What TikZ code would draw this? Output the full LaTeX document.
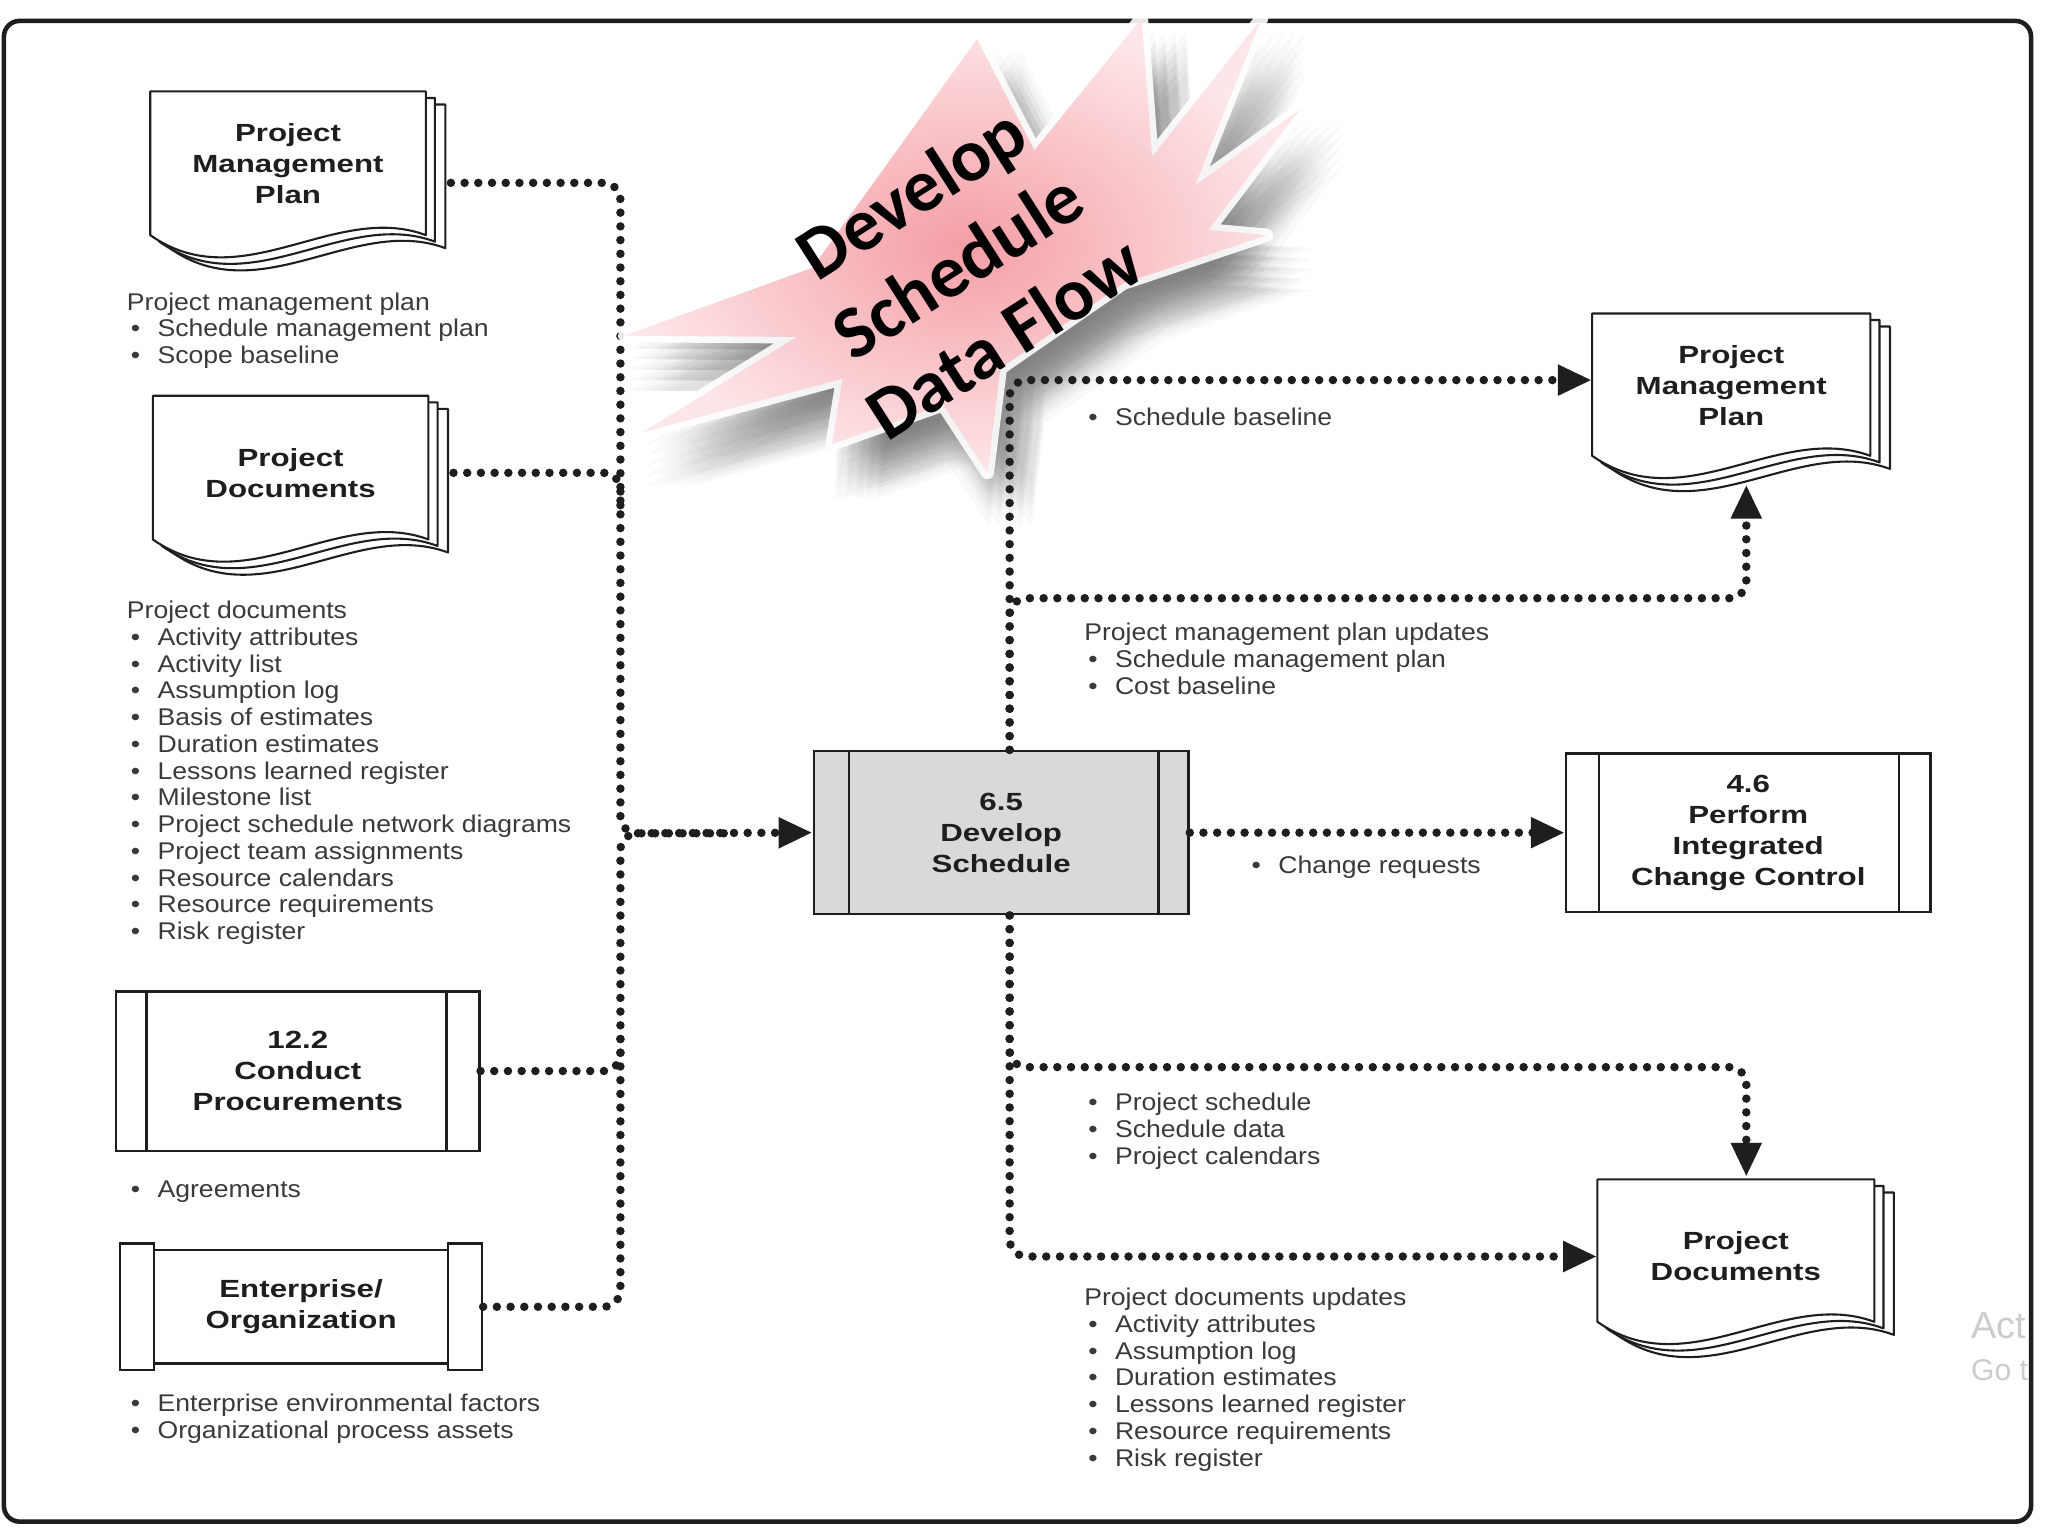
\documentclass[tikz,border=0pt]{standalone}
\usepackage{fontspec}
\setmainfont{Liberation Sans}
\newfontfamily\lstfont{Liberation Sans}[FakeStretch=1.1]
\newfontfamily\ttlfont{Liberation Sans}[FakeStretch=1.26]
\newfontfamily\starfont{Carlito}
\usetikzlibrary{arrows.meta}
\definecolor{txt}{HTML}{3A3A3A}
\definecolor{ink}{HTML}{1E1E1E}
\definecolor{procgray}{HTML}{D9D9D9}
\definecolor{pinkin}{HTML}{F49EA5}
\definecolor{pinkout}{HTML}{FDE6E8}
\newcommand\itm{\makebox[23.5pt][l]{\hspace{3pt}\textbullet}}
\newcommand\lns[1]{\begin{tabular}[t]{@{}l@{}}#1\end{tabular}}
\tikzset{
 lst/.style={anchor=base west, inner sep=0pt, text=txt, font=\lstfont\fontsize{18.5}{20.5}\selectfont},
 ttl/.style={align=center, text=ink, font=\ttlfont\bfseries\fontsize{19}{23.8}\selectfont},
 proc/.style={draw=ink, line width=1.8pt, fill=white, ttl, inner sep=0pt},
 procline/.style={draw=ink, line width=1.8pt},
 docnode/.style={ttl, inner sep=0pt},
 docline/.style={draw=ink, line width=1.6pt, fill=white, line join=round},
 flow/.style={draw=ink, line width=6.5pt, dash pattern=on 0pt off 10.5pt, line cap=round, rounded corners=13pt},
 tip/.style={-{Triangle[length=26pt,width=22pt]}}
}
\newcommand\docshape[4]{%
 \foreach \dx/\dy in {15/10,7/5}{%
  \path[docline] (#1+\dx,#2+\dy) -- (#1+#3+\dx,#2+\dy) -- (#1+#3+\dx,#2+#4+\dy) .. controls (#1+0.67*#3+\dx,#2+#4+\dy-26) and (#1+0.33*#3+\dx,#2+#4+\dy+49) .. (#1+\dx,#2+#4+\dy) -- cycle;}
 \path[docline] (#1,#2) -- (#1+#3,#2) -- (#1+#3,#2+#4) .. controls (#1+0.67*#3,#2+#4-26) and (#1+0.33*#3,#2+#4+49) .. (#1,#2+#4) -- cycle;
}
\newcommand\starpath[1]{\path[#1] (478,257) -- (622,205) -- (748,30) -- (792,115) -- (874,14) -- (882,120) -- (966,14) -- (915,142) -- (995,84) -- (925,176) -- (970,180) -- (860,217) -- (766,282) -- (756,362) -- (722,310) -- (637,340) -- (645,290) -- (492,331) -- (610,258) -- cycle;}
\begin{document}
\begin{tikzpicture}[x=1pt,y=-1pt]
\useasboundingbox (0,0) rectangle (1568,1176);
\fill[white] (0,0) rectangle (1568,1176);
\draw[ink,line width=3.5pt,rounded corners=12pt] (3,16) rectangle (1555,1165);

% documents
\docshape{115}{70}{211}{110}
\node[docnode,minimum width=211pt,minimum height=110pt] (lpmp) at (220.5,125) {Project\\Management\\Plan};
\docshape{117}{303}{211}{110}
\node[docnode,minimum width=211pt,minimum height=110pt] (lpd) at (222.5,362) {Project\\Documents};
\docshape{1219}{240}{213}{109}
\node[docnode,minimum width=213pt,minimum height=109pt] (rpmp) at (1325.5,295) {Project\\Management\\Plan};
\docshape{1223}{903}{212}{109}
\node[docnode,minimum width=212pt,minimum height=109pt] (rpd) at (1329,962) {Project\\Documents};

% processes
\node[proc,minimum width=278pt,minimum height=122pt] (c122) at (228,820) {12.2\\Conduct\\Procurements};
\draw[procline] ([xshift=24pt]c122.north west) -- ([xshift=24pt]c122.south west);
\draw[procline] ([xshift=-26pt]c122.north east) -- ([xshift=-26pt]c122.south east);

\node[proc,minimum width=277pt,minimum height=87pt] (ent) at (230.5,1000.5) {Enterprise/\\Organization};
\draw[procline,fill=white] (92,952) rectangle (118,1049);
\draw[procline,fill=white] (343,952) rectangle (369,1049);

\node[proc,fill=procgray,minimum width=287pt,minimum height=125pt] (c65) at (766.5,637.5) {6.5\\Develop\\Schedule};
\draw[procline] ([xshift=28pt]c65.north west) -- ([xshift=28pt]c65.south west);
\draw[procline] ([xshift=-24pt]c65.north east) -- ([xshift=-24pt]c65.south east);

\node[proc,minimum width=279pt,minimum height=121pt] (c46) at (1338.5,637.5) {4.6\\Perform\\Integrated\\Change Control};
\draw[procline] ([xshift=26pt]c46.north west) -- ([xshift=26pt]c46.south west);
\draw[procline] ([xshift=-25pt]c46.north east) -- ([xshift=-25pt]c46.south east);

% connectors left
\draw[flow,tip] ([xshift=19pt,yshift=-15pt]lpmp.east) -- (475,140) -- (475,638) -- (c65.west);
\draw[flow] ([xshift=19pt]lpd.east) -- (475,362) -- (475,392);
\draw[flow] (c122.east) -- (475,820) -- (475,792);
\draw[flow] (ent.east) -- (475,1000.5) -- (475,638) -- (560,638);

% starburst: soft shadow, white glow, pink body
\foreach \sx in {-16,-8,0,8,16}{\foreach \sy in {-16,-8,0,8,16}{%
  \starpath{fill=black, opacity=0.022, shift={(18+\sx,26+\sy)}}}}
\starpath{draw=white, line width=10pt, line join=round, opacity=0.9}
\starpath{inner color=pinkin, outer color=pinkout}
\node[rotate=32.6, align=center, inner sep=0pt, text=black, font=\starfont\bfseries\fontsize{57}{66}\selectfont] (title) at (733,203) {Develop\\Schedule\\Data Flow};

% connectors right
\coordinate (rpmpIn) at (1337,371);
\coordinate (rpdIn) at (1337,901);
\draw[flow,tip] ([xshift=6.5pt]c65.north) -- (773,291) -- ([yshift=4pt]rpmp.west);
\draw[flow,tip] ([xshift=6.5pt]c65.north) -- (773,458) -- (1337,458) -- (rpmpIn);
\draw[flow,tip] (c65.east) -- (c46.west);
\draw[flow,tip] ([xshift=6.5pt]c65.south) -- (773,962) -- (rpd.west);
\draw[flow,tip] ([xshift=6.5pt]c65.south) -- (773,817) -- (1337,817) -- (rpdIn);

% lists left
\node[lst] (l1) at (97,237.5) {\lns{Project management plan\\ \itm Schedule management plan\\ \itm Scope baseline}};
\node[lst] (l2) at (97,473.5) {\lns{Project documents\\ \itm Activity attributes\\ \itm Activity list\\ \itm Assumption log\\ \itm Basis of estimates\\ \itm Duration estimates\\ \itm Lessons learned register\\ \itm Milestone list\\ \itm Project schedule network diagrams\\ \itm Project team assignments\\ \itm Resource calendars\\ \itm Resource requirements\\ \itm Risk register}};
\node[lst] (l3) at (97,916.5) {\lns{\itm Agreements}};
\node[lst] (l4) at (97,1080.5) {\lns{\itm Enterprise environmental factors\\ \itm Organizational process assets}};

% lists right
\node[lst] (r1) at (830,325.5) {\lns{\itm Schedule baseline}};
\node[lst] (r2) at (830,490.5) {\lns{Project management plan updates\\ \itm Schedule management plan\\ \itm Cost baseline}};
\node[lst] (r3) at (955,668.5) {\lns{\itm Change requests}};
\node[lst] (r4) at (830,850.5) {\lns{\itm Project schedule\\ \itm Schedule data\\ \itm Project calendars}};
\node[lst] (r5) at (830,999.5) {\lns{Project documents updates\\ \itm Activity attributes\\ \itm Assumption log\\ \itm Duration estimates\\ \itm Lessons learned register\\ \itm Resource requirements\\ \itm Risk register}};

% watermark
\node[anchor=base west, inner sep=0pt, text=black!20, font=\fontsize{29}{30}\selectfont] (wm1) at (1509,1025) {Act};
\node[anchor=base west, inner sep=0pt, text=black!20, font=\fontsize{23}{24}\selectfont] (wm2) at (1509,1057) {Go t};
\end{tikzpicture}
\end{document}
